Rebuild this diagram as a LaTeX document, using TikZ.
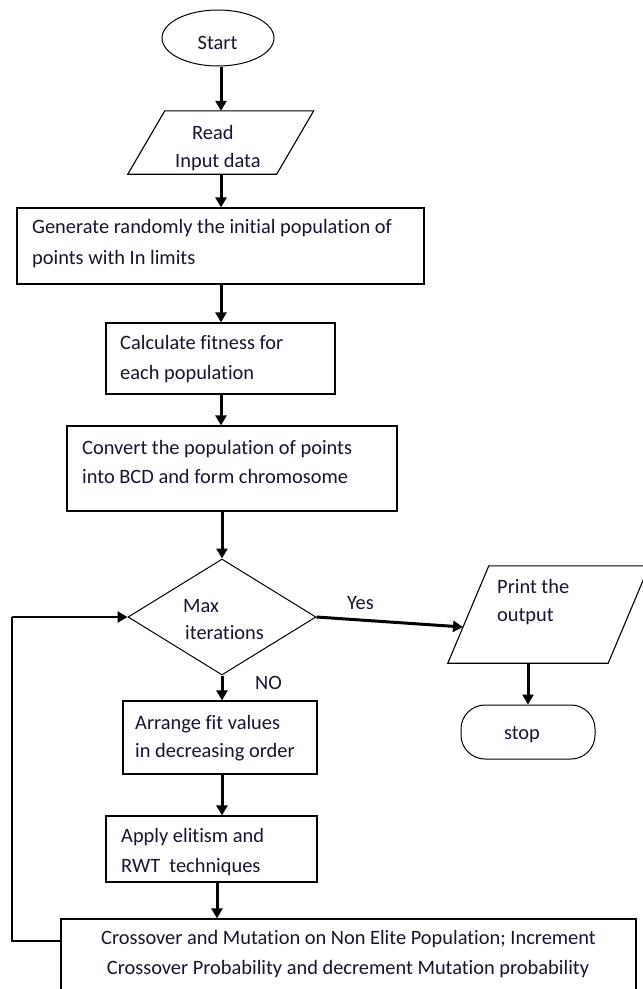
\documentclass[tikz,border=0pt]{standalone}
\usepackage{fontspec}
\setmainfont[Ligatures=NoCommon]{Carlito}
\usetikzlibrary{shapes.geometric,arrows.meta,calc}
\definecolor{txtcol}{RGB}{25,20,45}
\begin{document}
\begin{tikzpicture}[x=1pt,y=-1pt,
  box/.style={draw, line width=1.2pt, inner sep=0pt},
  thinshape/.style={draw, line width=1pt, inner sep=0pt},
  ghost/.style={draw=none, inner sep=0pt},
  txt/.style={anchor=base west, inner sep=0pt, text=txtcol, font=\fontsize{20.4}{24}\selectfont},
  txtc/.style={anchor=base, inner sep=0pt, text=txtcol, font=\fontsize{20.4}{24}\selectfont},
  flow/.style={line width=3pt, -{Triangle[width=11pt,length=10pt]}},
  loopline/.style={line width=1.5pt},
  loophead/.style={line width=2.5pt, -{Triangle[width=11pt,length=10pt]}}
]
\useasboundingbox (0,0) rectangle (643,989);
\fill[white] (0,0) rectangle (643,989);

\coordinate (col) at (221,0);

% Start
\node[thinshape, ellipse, minimum width=112pt, minimum height=56pt] (start) at (218,38) {};
\node[txtc] (startt) at (217.5,49) {Start};

% Read input
\node[ghost, minimum width=148.5pt, minimum height=63pt] (read) at (220.75,142.5) {};
\draw[line width=1.1pt] ([xshift=18.5pt]read.north west) -- ([xshift=18.5pt]read.north east)
  -- ([xshift=-18.5pt]read.south east) -- ([xshift=-18.5pt]read.south west) -- cycle;
\node[txt] (readt1) at (192,139) {Read};
\node[txt] (readt2) at (175,167) {Input data};

% Generate
\node[box, minimum width=407pt, minimum height=76pt] (gen) at (220.5,246) {};
\node[txt] (gent1) at (32,233) {Generate randomly the initial population of};
\node[txt] (gent2) at (32,264) {points with In limits};

% Calculate
\node[box, minimum width=229pt, minimum height=71pt] (calc) at (220.5,358.5) {};
\node[txt] (calct1) at (120,349) {Calculate fitness for};
\node[txt] (calct2) at (120,379) {each population};

% Convert
\node[box, minimum width=330pt, minimum height=85pt] (conv) at (232,468.5) {};
\node[txt] (convt1) at (82,454) {Convert the population of points};
\node[txt] (convt2) at (82,483) {into BCD and form chromosome};

% Diamond
\node[thinshape, diamond, minimum width=188pt, minimum height=116pt] (diam) at (222,617) {};
\node[txt] (diamt1) at (183,612) {Max};
\node[txt] (diamt2) at (185,639) {iterations};
\node[txt] (yes) at (347,609) {Yes};
\node[txt] (no) at (255,689) {NO};

% Print output
\node[ghost, minimum width=160pt, minimum height=97pt] (print) at (548.5,614.5) {};
\draw[line width=1.1pt] ([xshift=20.5pt]print.north west) -- ([xshift=20.5pt]print.north east)
  -- ([xshift=-20.5pt]print.south east) -- ([xshift=-20.5pt]print.south west) -- cycle;
\node[txt] (printt1) at (497,593) {Print the};
\node[txt] (printt2) at (497,621) {output};

% Stop
\node[thinshape, rounded corners=24pt, minimum width=134pt, minimum height=54pt] (stop) at (528,732) {};
\node[txtc] (stopt) at (522,739) {stop};

% Arrange
\node[box, minimum width=194pt, minimum height=73pt] (arr) at (220,737.5) {};
\node[txt] (arrt1) at (135,729) {Arrange fit values};
\node[txt] (arrt2) at (135,757) {in decreasing order};

% Apply
\node[box, minimum width=211pt, minimum height=66pt] (apply) at (211.5,849) {};
\node[txt] (applyt1) at (121,842) {Apply elitism and};
\node[txt] (applyt2) at (121,872) {RWT\ \ techniques};

% Crossover
\node[box, minimum width=575pt, minimum height=76pt] (cross) at (348.5,957) {};
\node[txtc] (crosst1) at (348.5,944) {Crossover and Mutation on Non Elite Population; Increment};
\node[txtc] (crosst2) at (348,974) {Crossover Probability and decrement Mutation probability};

% Connectors
\draw[flow] (start.south -| col) -- (read.north -| col);
\draw[flow] (read.south -| col) -- (gen.north -| col);
\draw[flow] (gen.south -| col) -- (calc.north -| col);
\draw[flow] (calc.south -| col) -- (conv.north -| col);
\draw[flow] (conv.south -| diam.north) -- (diam.north);
\draw[flow] (diam.east) -- ($(print.west)+(-5.3,12.5)$);
\draw[flow] (print.south -| stop.north) -- (stop.north);
\draw[flow] (diam.south) -- (arr.north -| diam.south);
\draw[flow] (arr.south -| diam.south) -- (apply.north -| diam.south);
\coordinate (ac) at (217,0);
\draw[flow] (apply.south -| ac) -- (cross.north -| ac);
\coordinate (lc) at (12,617);
\draw[loopline] ([yshift=16pt]cross.west) -| (lc);
\draw[loophead] (lc) -- (diam.west);
\end{tikzpicture}
\end{document}
